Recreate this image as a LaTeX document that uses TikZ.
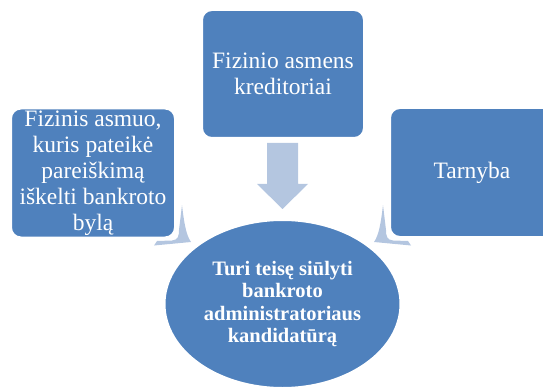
\documentclass[tikz,border=0pt]{standalone}
\usepackage{fontspec}
\setmainfont{Liberation Serif}
\usetikzlibrary{shapes.geometric}
\definecolor{boxblue}{HTML}{4F81BD}
\definecolor{arrowblue}{HTML}{B4C6E0}
\begin{document}
\begin{tikzpicture}[x=1pt,y=-1pt,
  box/.style={draw=white, line width=2pt, fill=boxblue, rounded corners=10pt,
    text=white, align=center, font=\fontsize{23.5}{26}\selectfont, inner sep=0pt,
    minimum width=164pt, minimum height=129pt},
  centre/.style={ellipse, draw=white, line width=2pt, fill=boxblue, text=white,
    align=center, font=\fontsize{20.5}{22.3}\selectfont\bfseries, inner sep=0pt,
    minimum width=236pt, minimum height=168pt},
  arrowfill/.style={fill=arrowblue}]
\useasboundingbox (0,0) rectangle (543,390);
\clip (0,0) rectangle (543,390);
% arrows (behind the shapes)
\fill[arrowfill] (267,143) -- (298,143) -- (298,184) -- (308,184) -- (282.5,209)
  -- (257,184) -- (267,184) -- cycle;
\fill[arrowfill] (182,205) .. controls (184,222) and (186,235) .. (191,242)
  -- (154,245.5) -- (157,241) -- (172,240.5)
  .. controls (178,240) and (179,236) .. (179,230) -- cycle;
\fill[arrowfill] (383,205) .. controls (381,222) and (379,235) .. (374,242)
  -- (411,245.5) -- (408,241) -- (393,240.5)
  .. controls (387,240) and (386,236) .. (386,230) -- cycle;
% boxes
\node[box, minimum height=128pt, minimum width=162pt] (top) at (283,74)
  {Fizinio asmens\\kreditoriai};
\node[box] (left) at (93,173)
  {Fizinis asmuo,\\kuris pateikė\\pareiškimą\\iškelti bankroto\\bylą};
\node[box] (right) at (472,172.5) {Tarnyba};
\node[centre] (center) at (282.5,304)
  {Turi teisę siūlyti\\bankroto\\administratoriaus\\kandidatūrą};
\end{tikzpicture}
\end{document}
